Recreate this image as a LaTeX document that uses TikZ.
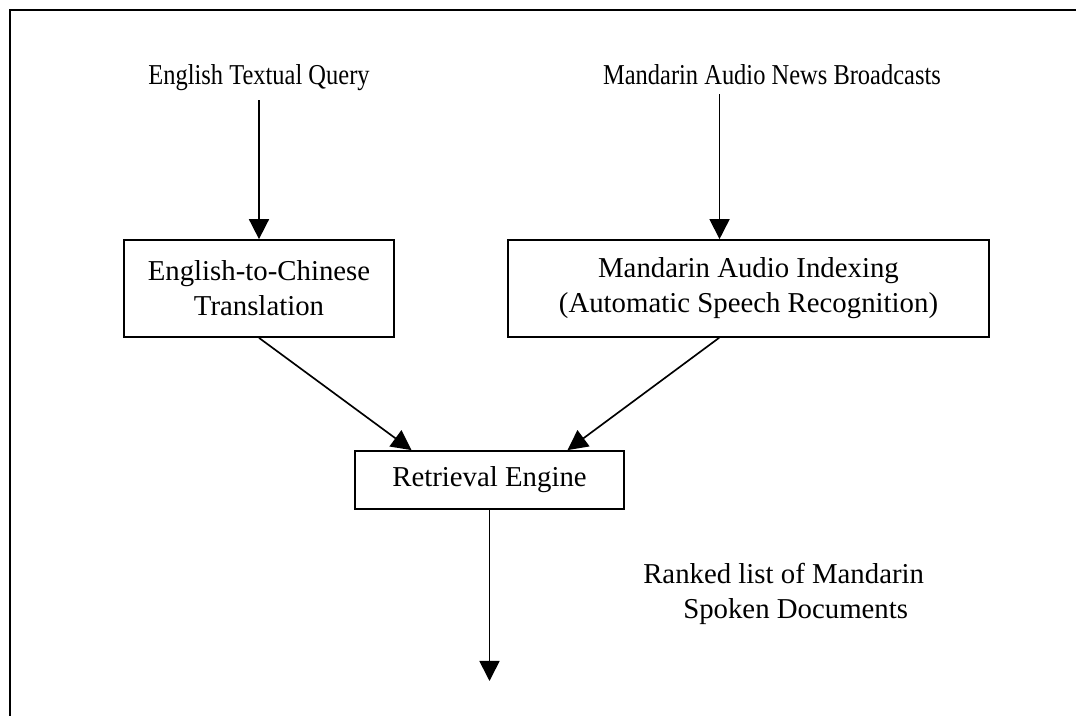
\documentclass[tikz,border=0pt]{standalone}
\usepackage{fontspec}
\setmainfont{Liberation Serif}
\newfontfamily\narrowserif[FakeStretch=0.85]{Liberation Serif}
\usetikzlibrary{arrows.meta,calc}

\tikzset{
  boxtext/.style={font=\fontsize{21.6}{26.1}\selectfont, align=center},
  labeltext/.style={font=\narrowserif\fontsize{21.6}{26}\selectfont},
  procbox/.style={boxtext, draw, line width=1.3pt, inner sep=0pt},
  flow/.style={line width=1.25pt, -{Triangle[length=15pt,width=15pt]}},
  frameline/.style={line width=1.5pt}
}

\begin{document}
\begin{tikzpicture}[x=0.75pt, y=-0.75pt]
  \useasboundingbox (0,0) rectangle (1076,716);

  % open frame: top and left edges only
  \draw[frameline] (1076,10) -- (9.5,10) -- (9.5,716);

  % inputs
  \node[labeltext, anchor=base, inner ysep=6.5pt] (query) at (259,85) {English Textual Query};
  \node[labeltext, anchor=base, inner ysep=6.5pt] (news) at (772,85) {Mandarin Audio News Broadcasts};

  % processing stages
  \node[procbox, minimum width=202.5pt, minimum height=72.75pt] (trans) at (259,288.5)
    {English-to-Chinese\\Translation};
  \node[procbox, minimum width=360.75pt, minimum height=72.75pt] (asr) at (748.5,288.5)
    {Mandarin Audio Indexing\\(Automatic Speech Recognition)};
  \node[procbox, minimum width=201.75pt, minimum height=43.5pt] (engine) at (489.5,480)
    {Retrieval Engine};

  % output label
  \node[boxtext, anchor=base west, inner sep=0pt] (ranked) at (643,584) {Ranked list of Mandarin};
  \node[boxtext, anchor=base west, inner sep=0pt] (spoken) at (683,619) {Spoken Documents};

  % connector anchor points
  \coordinate (asrin)  at ($(asr.north west)!0.44!(asr.north east)$);
  \coordinate (asrout) at ($(asr.south west)!0.439!(asr.south east)$);
  \coordinate (engl)   at ($(engine.north west)!0.212!(engine.north east)$);
  \coordinate (engr)   at ($(engine.north west)!0.788!(engine.north east)$);
  \coordinate (result) at (489.5,681);

  % connectors
  \draw[flow] (query.south) -- (trans.north);
  \draw[flow] (news.south -| asrin) -- (asrin);
  \draw[flow] (trans.south) -- (engl);
  \draw[flow] (asrout) -- (engr);
  \draw[flow] (engine.south) -- (result);
\end{tikzpicture}
\end{document}
